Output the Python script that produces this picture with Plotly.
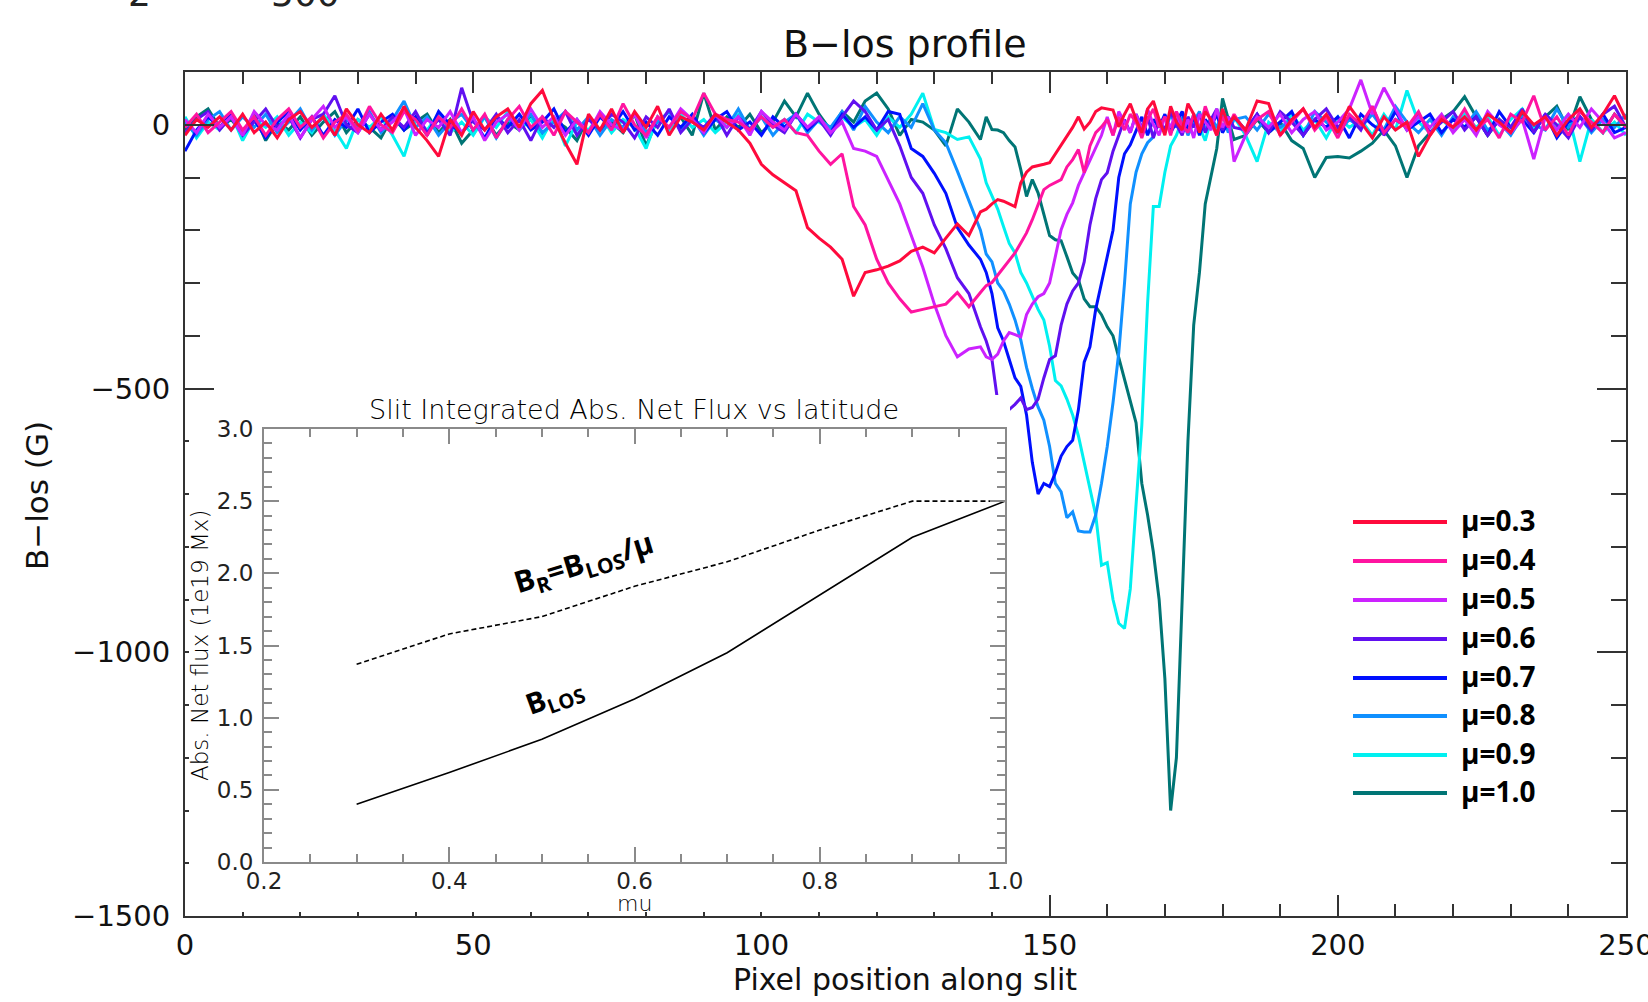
import plotly.graph_objects as go

# ---------------- data ----------------
# pixel positions along the slit (coarse in the quiet parts, fine in the dips)
pixels = list(range(0, 139, 2)) + list(range(139, 183)) + list(range(184, 251, 2))

mu_labels = ["μ=0.3", "μ=0.4", "μ=0.5", "μ=0.6", "μ=0.7", "μ=0.8", "μ=0.9", "μ=1.0"]
mu_colors = ["#ff0a3c", "#ff14a0", "#cc22ff", "#6010f0", "#0010ff", "#1090ff", "#00f0f0", "#007575"]

b_mu03 = [
    -20, 10, -5, 15, -10, 20, -15, 5, -25, 10, 25, -5, 15, -20, 30, 0, -15, 20, -10, 35,
    -5, -30, -60, 10, -20, 25, -10, 15, 30, -5, 40, 65, 10, -35, -75, 20, -10, 30, -15, 25,
    -5, 35, -20, 15, 5, -10, 20, 5,
    -10, -35, -75, -95, -110, -125, -195, -215, -232, -255, -325, -280, -275, -268, -258, -240,
    -232, -243, -215, -188, -210, -165,
    -160, -150, -142, -145, -150, -155, -110, -90, -80, -78, -75, -72, -55, -38, -20, -5, 15, -8, 5, 25,
    32, 30, 28, -4, 20, 40, 10, -15, 30, 45, 10, -20, 35, 5, -10, 40, 20, -15, 25, 10, -20, 30, 0, 15,
    -10, 45, 40, -20, 10, 30, -5, 20, -15, 35, 5, -25, 15, -10, 5, -60, -20, 10, -5, 15,
    -10, 20, 5, -15, 25, 0, 15, -20, 10, 30, -5, 20, 55, 10,
]
b_mu04 = [
    -5, 20, -15, 5, 25, -10, 15, -20, 10, 30, -5, 15, -25, 5, 20, -10, 35, 0, -15, 25,
    10, -20, 15, -5, 30, -10, 20, -25, 10, 35, -5, 15, -20, 25, 5, -15, 20, -10, 40, 0,
    -20, 15, -5, 25, 10, 60, 20, 10, 5, -10, 15, -5, 10, -15,
    -20, -50, -75, -55, -155, -190, -255, -300, -330, -355, -350, -345, -340, -318, -345, -318,
    -305, -299, -285, -269, -255, -243, -224, -205, -180, -150, -123, -115, -110, -104, -80, -66,
    -47, -91, -40, -15, -4, 10, -20, 15, -10, 20, 5, -25, 10, 30, -5, 15, -20, 25, 0, -15,
    20, -10, 35, 5, -20, 15, -5, 20,
    -15, 10, 25, -20, 5, 30, -10, 15, -25, 20, 0, 35, -15, 10, -5, 25, -20, 15, -5, 30,
    -10, 10, -25, 20, 5, 55, -10, 15, -20, 25, 5, -15, 20, -5,
]
b_mu05 = [
    10, -15, 20, -5, 15, -20, 25, 0, -10, 20, -25, 10, 35, -5, 15, -15, 20, -10, 5, 30,
    -20, 10, -5, 25, -15, 15, -30, 5, 20, -10, 30, -5, 15, -20, 10, -15, 25, 0, -10, 20,
    -25, 15, -5, 30, 10, -15, 20, -5, 15, -20, 25, 5, -10, 20, -5, 15, -15, 5,
    -45, -50, -60, -104, -150, -210, -270, -340, -400, -440, -425, -421,
    -440, -445, -435, -410, -394, -398, -402, -360, -340, -326, -320, -300, -250, -199, -170, -148,
    -115, -91, -70, -45, -20, 15, -20, 25, 5, -15, 20, -10, 30, 0, -20, 15, -5, 25, -15, 10,
    -25, 20, 5, -10, 30, -5, 15, -70,
    -20, 15, -5, 20, -15, 10, 25, -10, 5, 30, 85, 20, 70, 30, -10, 15, -5, 20, -15, 10,
    -20, 25, 0, -15, 10, -65, 15, -10, 20, -5, 30, 5, -25, -15,
]
b_mu06 = [
    -15, 10, 25, -10, 15, -20, 5, 30, -5, 15, -25, 10, 20, 55, 0, -15, 20, -10, 15, -5,
    25, -15, 10, -20, 70, 5, -10, 20, -15, 10, -30, 15, -5, 25, -20, 10, -10, 20, 5, -25,
    15, -5, 30, -15, 10, -5, 20, -20, 15, -10, 25, 0, -15, 20, -5, 10, -20, 15, 45, 25,
    -10, 10,
    -40, -100, -130, -190, -235, -290, -320, -383,
    -410, -445, -525, -545, -540, -530, -518, -540, -536, -520, -480, -445, -438, -380, -340, -315,
    -300, -260, -190, -140, -104, -91, -50, -20, 10, -15, 20, -5, 15, -25, 10, -10, 25, 0, -20, 15,
    -5, 20, -15, 10, 30, -10, 15, -5,
    -10, 20, -15, 25, 5, -20, 10, 30, -5, 15, -10, 35, -20, 10, -5, 20, -15, 5, 25, -10,
    15, -20, 10, -5, 30, -15, 20, 0, -25, 15, -10, 20, 35, -5,
]
b_mu07 = [
    -50, -10, 15, -5, 20, -15, 10, -25, 5, 25, -10, 15, -20, 10, -5, 30, -15, 5, 20, -10,
    15, -20, 25, 0, -15, 10, -25, 15, -5, 20, -10, 5, 30, -15, 10, -20, 15, -5, 25, -10,
    5, -20, 15, -5, 20, -15, 10, 25, -10, 5, -20, 15, -5, 20, -10, 10, -15, 20, -5, 15,
    -10, 25,
    20, -45, -60, -92, -130, -195, -228, -255,
    -280, -320, -385, -410, -445, -480, -496, -550, -640, -700, -680, -686, -660, -628, -610, -598,
    -540, -450, -421, -350, -300, -250, -200, -100, -55, -38, -10, 15, -20, 10, -5, 20, -15, 5,
    25, -10, 15, -20, 10, -5, 20, -15, 5, 15,
    -10, 20, -15, 5, 25, -20, 10, -5, 15, -25, 20, 0, -15, 25, -10, 5, 20, -15, 10, -5,
    15, -20, 25, -5, 10, -15, 20, -25, 5, 15, -10, 20, -15, -5,
]
b_mu08 = [
    5, -20, 10, 25, -10, 15, -5, 20, -15, 5, 30, -10, 15, -20, 10, -5, 25, -15, 10, 45,
    -5, 15, -20, 5, 20, -10, 15, -25, 10, -5, 20, -15, 5, 25, -10, 15, -20, 10, -5, 20,
    -15, 5, 25, -10, 15, -20, 10, -5, 30, -10, 15, -20, 5, 20, -15, 10, -5, 25, -10, 35,
    5, -15, 15, -5, 40,
    -10, -34, -88, -145, -200,
    -245, -260, -300, -315, -340, -370, -408, -460, -500, -535, -560, -610, -680, -696, -745, -734,
    -770, -772, -772, -740, -680, -610, -527, -432, -300, -150, -90, -55, -34, -23, 10, -15, 20, -5,
    15, -20, 5, 25, -10, 15, -5, 20, -15, 10,
    15, -10, 20, -5, 10, -20, 25, 5, -15, 10, -5, 20, -10, 35, 5, -15, 10, -20, 15, -5,
    25, -10, 5, -20, 15, 0, -10, 30, -5, 15, -15, 10, -5, 20,
]
b_mu09 = [
    15, -25, 5, -10, 20, -30, 10, -5, 15, -20, 5, -15, 20, -10, -45, 10, -5, 15, -20, -60,
    10, -10, 20, -15, 5, -20, 15, -5, 25, -10, 10, -25, 15, -40, 5, -10, 20, -15, 10, -5,
    -45, 15, -10, 20, -5, 10, -15, 5, 20, -10, 15, -5, 10, -15, 20, 5, -10, 15, -5, 10,
    -20, 15, -5, 20, 60, -9, -15, -28, -23,
    -65,
    -110, -135, -160, -193, -225, -243, -280, -300, -325, -350, -370, -420, -485, -495, -520, -550,
    -590, -640, -690, -740, -835, -830, -900, -945, -955, -880, -720, -570, -338, -155, -155, -90,
    -40, -20, 10, -15, 20, -5, -30, 10, -10, 25, -5, 15,
    -20, -70, 5, -15, 20, -10, 10, -25, 15, -5, 10, -20, 20, -10, 65, 5, -15, 10, -10, 20,
    -5, 15, -20, 10, 30, -10, 15, -5, 20, -70, 10, -15, 5, -20,
]
b_mu10 = [
    -10, 15, 30, -5, 10, -15, 20, -30, 5, -10, 15, -20, 5, 25, -15, 10, -5, -25, 15, -10,
    5, 20, -15, 10, -35, -10, 15, -20, 5, -10, 15, -20, 10, -5, -30, 15, -10, 5, -15, 20,
    -40, 10, -5, 15, -20, 60, -10, 15, -5, 20, -15, 5, 45, 15, 60, 20, -10, 25, 5, 45,
    60, 30, -20, 10, 5, -10, -40, 30, 5, -28,
    15, -9, -10, -15, -30, -42, -85, -136, -104, -129, -170, -210, -218, -220, -250, -281,
    -294, -330, -345, -345, -360, -383, -400, -440, -480, -520, -565, -680, -740, -810, -900, -1050,
    -1300, -1200, -900, -600, -380, -280, -150, -99, -45, 50, 10, -28,
    -20, 10, -15, 5, -30, -45, -100, -62, -60, -63, -50, -35, -10, -40, -100, -40, -15, 10, 25, 53,
    15, -20, 10, -15, 20, -5, 15, 35, -10, 53, 10, -15, 20, -5,
]
profiles = [b_mu03, b_mu04, b_mu05, b_mu06, b_mu07, b_mu08, b_mu09, b_mu10]

# inset: slit-integrated absolute net flux vs mu
inset_mu = [0.3, 0.4, 0.5, 0.6, 0.7, 0.8, 0.9, 1.0]
flux_br = [1.37, 1.58, 1.70, 1.91, 2.08, 2.30, 2.50, 2.50]
flux_blos = [0.40, 0.62, 0.85, 1.13, 1.45, 1.85, 2.25, 2.50]

main_xticks = [0, 50, 100, 150, 200, 250]
main_yticks = [0, -500, -1000, -1500]
inset_xticks = [0.2, 0.4, 0.6, 0.8, 1.0]
inset_xticktext = ["0.2", "0.4", "0.6", "0.8", "1.0"]
inset_yticks = [0.0, 0.5, 1.0, 1.5, 2.0, 2.5, 3.0]
inset_yticktext = ["0.0", "0.5", "1.0", "1.5", "2.0", "2.5", "3.0"]

# ---------------- layout helpers ----------------
W, H = 1648, 1002
L, R, T, B = 185, 1626, 72, 916


def px(x):
    return (x - L) / (R - L)


def py(y):
    return (B - y) / (B - T)


MAIN_FONT = "DejaVu Sans"
INSET_FONT = "DejaVu Sans"
LEG_FONT = "Open Sans"
AXC = "#333333"
INC = "#8a8a8a"

fig = go.Figure()

# main profiles (drawn so that mu=0.3 ends on top)
for name, color, vals in reversed(list(zip(mu_labels, mu_colors, profiles))):
    fig.add_trace(go.Scatter(x=pixels, y=vals, mode="lines", name=name,
                             line=dict(color=color, width=3), hoverinfo="skip",
                             showlegend=False))

# white backing panel of the inset (an empty subplot whose background hides what lies below)
fig.add_trace(go.Scatter(x=[None], y=[None], xaxis="x2", yaxis="y2", mode="lines",
                         showlegend=False, hoverinfo="skip"))

# inset curves
fig.add_trace(go.Scatter(x=inset_mu, y=flux_br, xaxis="x3", yaxis="y3", mode="lines",
                         line=dict(color="black", width=1.6, dash="5px,3px"),
                         showlegend=False, hoverinfo="skip"))
fig.add_trace(go.Scatter(x=inset_mu, y=flux_blos, xaxis="x3", yaxis="y3", mode="lines",
                         line=dict(color="black", width=1.6),
                         showlegend=False, hoverinfo="skip"))

main_axis_common = dict(showgrid=False, zeroline=False, showline=True, linewidth=2,
                        linecolor=AXC, ticks="inside", tickwidth=2, tickcolor=AXC,
                        mirror="allticks", automargin=False, ticklabeloverflow="allow",
                        tickfont=dict(family=MAIN_FONT, size=29, color="#111"))
inset_axis_common = dict(showgrid=False, zeroline=False, showline=True, linewidth=2,
                         linecolor=INC, ticks="inside", tickwidth=1.5, tickcolor=INC,
                         ticklen=15, mirror="allticks", automargin=False,
                         ticklabeloverflow="allow",
                         tickfont=dict(family=INSET_FONT, size=23, color="#222"))

fig.update_layout(
    width=W, height=H, autosize=False,
    margin=dict(l=L, r=W - R, t=T, b=H - B, pad=0, autoexpand=False),
    paper_bgcolor="white", plot_bgcolor="white",
    showlegend=False,
    xaxis=dict(domain=[0, 1], anchor="y", range=[0, 250], tickmode="array",
               tickvals=main_xticks, ticklen=21, ticklabelstandoff=2,
               minor=dict(tickmode="linear", tick0=0, dtick=10, ticks="inside",
                          ticklen=12, tickwidth=2, tickcolor=AXC),
               **main_axis_common),
    yaxis=dict(domain=[0, 1], anchor="x", range=[-1500, 100], tickmode="array",
               tickvals=main_yticks, ticklen=29, ticklabelstandoff=7,
               minor=dict(tickmode="linear", tick0=0, dtick=100, ticks="inside",
                          ticklen=15, tickwidth=2, tickcolor=AXC),
               **main_axis_common),
    xaxis2=dict(domain=[px(189), px(1010)], anchor="y2", range=[0, 1], visible=False,
                automargin=False),
    yaxis2=dict(domain=[py(912), py(395)], anchor="x2", range=[0, 1], visible=False,
                automargin=False),
    xaxis3=dict(domain=[px(264), px(1005)], anchor="y3", range=[0.2, 1.0],
                tickmode="array", tickvals=inset_xticks, ticktext=inset_xticktext,
                ticklabelstandoff=-3,
                minor=dict(tickmode="linear", tick0=0.2, dtick=0.05, ticks="inside",
                           ticklen=8, tickwidth=1.5, tickcolor=INC),
                **inset_axis_common),
    yaxis3=dict(domain=[py(862), py(429)], anchor="x3", range=[0, 3.0],
                tickmode="array", tickvals=inset_yticks, ticktext=inset_yticktext,
                ticklabelstandoff=4,
                minor=dict(tickmode="linear", tick0=0, dtick=0.1, ticks="inside",
                           ticklen=8, tickwidth=1.5, tickcolor=INC),
                **inset_axis_common),
)


def ann(text, x, y, size, family=MAIN_FONT, color="#111", angle=0,
        xanchor="center", yanchor="middle", weight=None):
    f = dict(family=family, size=size, color=color)
    if weight is not None:
        f["weight"] = weight
    return dict(text=text, x=px(x), y=py(y), xref="paper", yref="paper",
                showarrow=False, font=f, textangle=angle,
                xanchor=xanchor, yanchor=yanchor)


annotations = [
    ann("B\u2212los profile", 905, 44, 38),
    ann("Pixel position along slit", 905, 980, 30),
    ann("B\u2212los (G)", 37, 496, 31, angle=-90),
    # inset texts
    ann("Slit Integrated Abs. Net Flux vs latitude", 634, 409, 27, family=INSET_FONT,
        color="#000", weight=200),
    ann("Abs. Net flux (1e19 Mx)", 200, 646, 23, family=INSET_FONT, color="#000",
        angle=-90, weight=200),
    ann("mu", 634, 903, 22, family=INSET_FONT, color="#000", weight=200),
    ann("<b>B<sub>R</sub>=B<sub>LOS</sub>/μ</b>", 584, 563, 30, family=LEG_FONT,
        color="black", angle=-17),
    ann("<b>B<sub>LOS</sub></b>", 554, 696, 29, family=LEG_FONT, color="black", angle=-20),
    # clipped remnants at the very top edge
    ann("2", 139, -6, 36, color="#222"),
    ann("500", 305, -6, 36, color="#222"),
]

# hand-drawn style legend on the right
leg_rows = [522, 561, 600, 639, 678, 716, 755, 793]
shapes = []
for lab, col, yrow in zip(mu_labels, mu_colors, leg_rows):
    shapes.append(dict(type="line", xref="paper", yref="paper",
                       x0=px(1353), x1=px(1447), y0=py(yrow), y1=py(yrow),
                       line=dict(color=col, width=4)))
    annotations.append(ann("<b>" + lab + "</b>", 1459, yrow - 2, 28, family=LEG_FONT,
                           color="black", xanchor="left"))

fig.update_layout(annotations=annotations, shapes=shapes)

fig.write_html(
    "out.html",
    config={"responsive": False, "displayModeBar": False},
    post_script="document.body.style.margin='0px';document.body.style.overflow='hidden';",
)
